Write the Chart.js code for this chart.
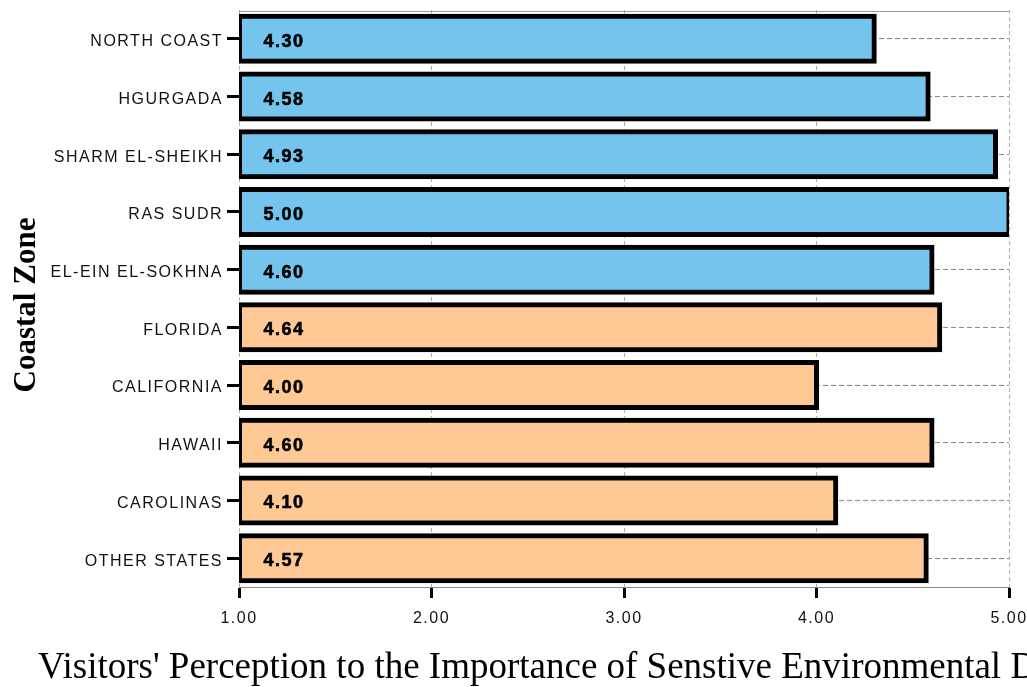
<!DOCTYPE html>
<html>
<head>
<meta charset="utf-8">
<script src="https://cdn.jsdelivr.net/npm/chart.js@4/dist/chart.umd.min.js"></script>
<style>
  html, body { margin: 0; padding: 0; background: #fff; }
  #wrap { width: 1027px; height: 687px; }
</style>
</head>
<body>
<div id="wrap"><canvas id="chart"></canvas></div>
<script>
// ===== DATA =====
const zones = ['NORTH COAST', 'HGURGADA', 'SHARM EL-SHEIKH', 'RAS SUDR', 'EL-EIN EL-SOKHNA',
               'FLORIDA', 'CALIFORNIA', 'HAWAII', 'CAROLINAS', 'OTHER STATES'];
const scores = [4.30, 4.58, 4.93, 5.00, 4.60, 4.64, 4.00, 4.60, 4.10, 4.57];
const zoneGroup = ['EG', 'EG', 'EG', 'EG', 'EG', 'US', 'US', 'US', 'US', 'US'];
const xTicks = [1, 2, 3, 4, 5];

const groupColors = { EG: '#74c4ee', US: '#ffc995' };
const xTitle = "Visitors' Perception to the Importance of Senstive Environmental Dimensions";
const yTitle = 'Coastal Zone';

// tick labels of the old SPSS export are letter-spaced
const spacingPlugin = {
  id: 'spacing',
  beforeDraw(chart) { chart.ctx.letterSpacing = '1.5px'; },
  beforeDatasetsDraw(chart) { chart.ctx.letterSpacing = '0px'; }
};

const decorPlugin = {
  id: 'decor',
  beforeDatasetsDraw(chart) {
    const { ctx, chartArea: a } = chart;
    ctx.save();
    ctx.strokeStyle = '#9a9a9a';
    ctx.lineWidth = 1;
    ctx.beginPath();
    ctx.moveTo(a.left, 11.5);
    ctx.lineTo(a.right, 11.5);
    ctx.stroke();
    ctx.restore();
  },
  afterDatasetsDraw(chart) {
    const ctx = chart.ctx;
    const meta = chart.getDatasetMeta(0);
    ctx.save();
    ctx.font = 'bold 18px "Liberation Sans", Arial, sans-serif';
    ctx.letterSpacing = '1.5px';
    ctx.fillStyle = '#000';
    ctx.strokeStyle = '#000';
    ctx.lineWidth = 0.6;
    ctx.textAlign = 'left';
    ctx.textBaseline = 'middle';
    meta.data.forEach((bar, i) => {
      const txt = scores[i].toFixed(2);
      ctx.fillText(txt, bar.base + 24, bar.y + 3);
      ctx.strokeText(txt, bar.base + 24, bar.y + 3);
    });
    ctx.restore();
  },
  afterDraw(chart) {
    const ctx = chart.ctx;
    ctx.save();
    ctx.letterSpacing = '0px';
    ctx.fillStyle = '#000';
    // x title (runs off the right edge like the original)
    ctx.font = '37px "Liberation Serif", "Times New Roman", serif';
    ctx.textAlign = 'left';
    ctx.textBaseline = 'alphabetic';
    ctx.fillText(xTitle, 38, 678);
    // y title
    ctx.font = 'bold 31px "Liberation Serif", "Times New Roman", serif';
    ctx.translate(35, 305);
    ctx.rotate(-Math.PI / 2);
    ctx.textAlign = 'center';
    ctx.fillText(yTitle, 0, 0);
    ctx.restore();
  }
};

new Chart(document.getElementById('chart'), {
  type: 'bar',
  data: {
    labels: zones,
    datasets: [{
      data: scores,
      base: 1,
      backgroundColor: zoneGroup.map(g => groupColors[g]),
      borderColor: '#000',
      borderWidth: 5,
      borderSkipped: false,
      inflateAmount: 2.5,
      barPercentage: 0.78,
      categoryPercentage: 1
    }]
  },
  options: {
    indexAxis: 'y',
    responsive: true,
    maintainAspectRatio: false,
    animation: false,
    layout: { padding: { top: 10, right: 18, bottom: 0, left: 0 } },
    plugins: { legend: { display: false }, tooltip: { enabled: false } },
    scales: {
      x: {
        type: 'linear',
        min: 1,
        max: 5,
        afterBuildTicks: s => { s.ticks = xTicks.map(v => ({ value: v })); },
        afterFit: s => { s.height = 100; s.paddingLeft = 0; s.paddingRight = 0; },
        ticks: {
          callback: v => Number(v).toFixed(2),
          font: { size: 16, family: '"Liberation Sans", Arial, sans-serif' },
          color: '#111',
          padding: 11,
          maxRotation: 0
        },
        grid: {
          color: '#b0b0b0',
          lineWidth: 1,
          tickColor: '#000',
          tickWidth: 3,
          tickLength: 11
        },
        border: { display: true, color: '#8a8a8a', width: 1, dash: [4, 3] }
      },
      y: {
        afterFit: s => { s.width = 239; s.paddingTop = 0; s.paddingBottom = 0; },
        ticks: {
          font: { size: 16, family: '"Liberation Sans", Arial, sans-serif' },
          color: '#111',
          padding: 4,
          labelOffset: 3
        },
        grid: {
          offset: false,
          color: '#8a8a8a',
          lineWidth: 1,
          tickColor: '#000',
          tickWidth: 3,
          tickLength: 12
        },
        border: { display: false, dash: [5, 3] }
      }
    }
  },
  plugins: [spacingPlugin, decorPlugin]
});
</script>
</body>
</html>
